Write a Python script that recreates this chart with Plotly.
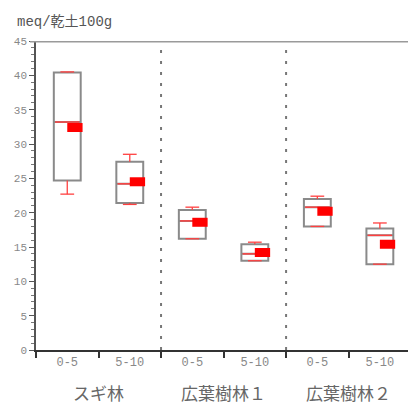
import plotly.graph_objects as go

groups = ["スギ林", "広葉樹林１", "広葉樹林２"]
depths = ["0-5", "5-10", "0-5", "5-10", "0-5", "5-10"]
lower = [22.7, 21.2, 16.2, 13.0, 18.0, 12.5]
q1 = [24.7, 21.4, 16.2, 13.0, 18.0, 12.5]
median = [33.2, 24.2, 18.8, 14.0, 20.8, 16.7]
q3 = [40.4, 27.4, 20.4, 15.4, 22.0, 17.7]
upper = [40.5, 28.5, 20.8, 15.7, 22.4, 18.5]
mean = [32.4, 24.5, 18.6, 14.2, 20.2, 15.4]
y_ticks = [0, 5, 10, 15, 20, 25, 30, 35, 40, 45]

pos = list(range(len(depths)))
bw = 0.43
cap = 0.11

fig = go.Figure()

# group separators
for s in [1.5, 3.5]:
    fig.add_trace(go.Scatter(x=[s, s], y=[0, 45], mode="lines",
                             line=dict(color="#777777", width=2, dash="3px,8px"),
                             hoverinfo="skip", showlegend=False))

# boxes
fig.add_trace(go.Box(x=pos, q1=q1, median=median, q3=q3, lowerfence=q1, upperfence=q3,
                     width=bw, line=dict(color="#8a8a8a", width=2), fillcolor="white",
                     showlegend=False, hoverinfo="skip"))

# whiskers
wx, wy = [], []
for p, a, b, lo, hi in zip(pos, q1, q3, lower, upper):
    wx += [p, p, None, p - cap, p + cap, None, p, p, None, p - cap, p + cap, None]
    wy += [b, hi, None, hi, hi, None, a, lo, None, lo, lo, None]
fig.add_trace(go.Scatter(x=wx, y=wy, mode="lines", line=dict(color="#ff4040", width=1.3),
                         hoverinfo="skip", showlegend=False))

# medians
mx, my = [], []
for p, m in zip(pos, median):
    mx += [p - bw / 2 + 0.02, p + bw / 2 - 0.02, None]
    my += [m, m, None]
fig.add_trace(go.Scatter(x=mx, y=my, mode="lines", line=dict(color="#ff4040", width=1.5),
                         hoverinfo="skip", showlegend=False))

# means
ex, ey = [], []
for p, m in zip(pos, mean):
    ex += [p, p + bw / 2 + 0.03, None]
    ey += [m, m, None]
fig.add_trace(go.Scatter(x=ex, y=ey, mode="lines", line=dict(color="#ff0000", width=9),
                         hoverinfo="skip", showlegend=False))

for i, g in enumerate(groups):
    fig.add_annotation(x=2 * i + 0.5, y=-0.136, xref="x", yref="paper", yanchor="middle",
                       text=g, showarrow=False,
                       font=dict(family="Noto Sans CJK JP", size=17, color="#666666"))

fig.add_annotation(x=-0.056, y=1.063, xref="paper", yref="paper", xanchor="left", yanchor="middle",
                   text="meq/乾土100g", showarrow=False,
                   font=dict(family="Liberation Mono, Noto Sans CJK JP", size=14, color="#555555"))

fig.add_shape(type="line", xref="paper", yref="y", x0=-0.016, x1=1, y0=45, y1=45,
              line=dict(color="#9a9a9a", width=3))

fig.update_layout(
    width=408, height=416,
    margin=dict(l=36, r=0, t=41, b=66),
    plot_bgcolor="white", paper_bgcolor="white",
    font=dict(family="Liberation Mono", color="#777777"),
    xaxis=dict(range=[-0.5, 5.45], tickmode="array", tickvals=pos, ticktext=depths,
               ticks="", showgrid=False, zeroline=False, showline=True, automargin=False,
               linecolor="#333333", linewidth=2, tickfont=dict(size=12, color="#888888"),
               minor=dict(tickmode="array", tickvals=[-0.5, 0.5, 1.5, 2.5, 3.5, 4.5],
                          ticks="outside", ticklen=6, tickwidth=2, tickcolor="#333333",
                          showgrid=False)),
    yaxis=dict(range=[0, 45], tickmode="array", tickvals=y_ticks, ticks="outside",
               ticklen=5, tickwidth=1, tickcolor="#555555", showgrid=False, zeroline=False,
               showline=True, linecolor="#555555", linewidth=1.5, automargin=False,
               tickfont=dict(size=11, color="#888888"),
               minor=dict(dtick=1, ticks="outside", ticklen=3, tickcolor="#777777",
                          showgrid=False)),
)

fig.write_html("out.html", config={"displayModeBar": False},
               post_script="document.body.style.margin='0';")
